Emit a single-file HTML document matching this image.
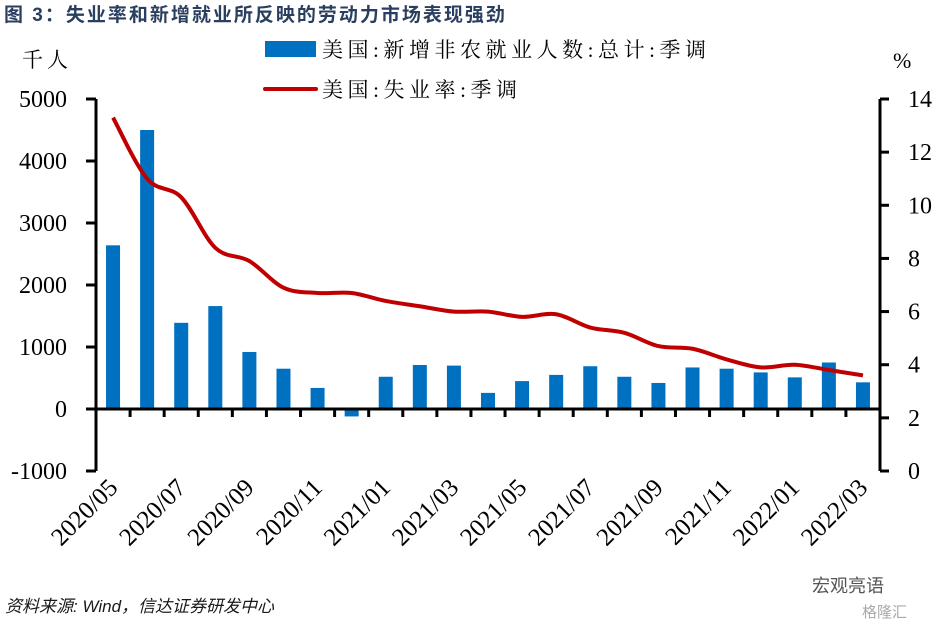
<!DOCTYPE html>
<html><head><meta charset="utf-8"><style>
body{margin:0;background:#fff;}
svg{display:block;}
</style></head><body>
<svg id="chart" width="937" height="629" xmlns="http://www.w3.org/2000/svg" font-family="'Liberation Serif','Noto Serif CJK SC',serif">
<text x="4" y="21" font-size="19" font-weight="bold" fill="#2a3f5f" letter-spacing="2" font-family="'Liberation Sans','Noto Sans CJK SC',sans-serif">图  3：失业率和新增就业所反映的劳动力市场表现强劲</text>
<text x="22" y="67" font-size="21" letter-spacing="4" font-family="'Liberation Serif','Noto Serif CJK SC',serif">千人</text>
<text x="893" y="68" font-size="22">%</text>
<g>
<rect x="265" y="41" width="51" height="16" fill="#0070c0"/>
<text x="322" y="57" font-size="21" textLength="384" lengthAdjust="spacing" font-family="'Liberation Serif','Noto Serif CJK SC',serif">美国:新增非农就业人数:总计:季调</text>
<line x1="265" y1="89" x2="316" y2="89" stroke="#c00000" stroke-width="4" stroke-linecap="round"/>
<text x="322" y="97" font-size="21" textLength="195" lengthAdjust="spacing" font-family="'Liberation Serif','Noto Serif CJK SC',serif">美国:失业率:季调</text>
</g>
<g id="plot"></g>
<text x="5" y="612" font-size="17" font-style="italic" fill="#1a1a1a" font-family="'Liberation Sans','Noto Sans CJK SC',sans-serif">资料来源: Wind，信达证券研发中心</text>
<text x="812" y="592" font-size="18" fill="#555" font-family="'Liberation Sans','Noto Sans CJK SC',sans-serif">宏观亮语</text>
<text x="862" y="617" font-size="15" fill="#aaa" font-family="'Liberation Sans','Noto Sans CJK SC',sans-serif">格隆汇</text>
</svg>
<script>
const categories=["2020/05","2020/06","2020/07","2020/08","2020/09","2020/10","2020/11","2020/12","2021/01","2021/02","2021/03","2021/04","2021/05","2021/06","2021/07","2021/08","2021/09","2021/10","2021/11","2021/12","2022/01","2022/02","2022/03"];
const payrolls=[2640,4500,1390,1660,920,650,340,-120,520,710,700,260,450,550,690,520,420,670,650,590,510,750,430];
const unemployment=[13.3,11.0,10.3,8.4,7.9,6.9,6.7,6.7,6.4,6.2,6.0,6.0,5.8,5.9,5.4,5.2,4.7,4.6,4.2,3.9,4.0,3.8,3.6];
const leftTicks=[-1000,0,1000,2000,3000,4000,5000];
const rightTicks=[0,2,4,6,8,10,12,14];

const NS="http://www.w3.org/2000/svg";
const g=document.getElementById('plot');
const X0=96,X1=880,YT=99,YB=471;
const band=(X1-X0)/categories.length;
const xc=i=>X0+band*(i+0.5);
const yL=v=>YB-(v+1000)/6000*(YB-YT);
const yR=v=>YB-v/14*(YB-YT);
function mk(t,a){const e=document.createElementNS(NS,t);for(const k in a)e.setAttribute(k,a[k]);g.appendChild(e);return e;}

payrolls.forEach((v,i)=>{
 const y0=yL(0),y1=yL(v);
 const r=mk('rect',{x:xc(i)-7,y:Math.min(y0,y1),width:14,height:Math.abs(y1-y0),fill:'#0070c0'});
 
 
});
let a=mk('line',{x1:X0,y1:YT,x2:X0,y2:YB,stroke:'#000','stroke-width':3});

a=mk('line',{x1:X1,y1:YT,x2:X1,y2:YB,stroke:'#000','stroke-width':3});

a=mk('line',{x1:X0-10,y1:yL(0),x2:X1,y2:yL(0),stroke:'#000','stroke-width':3});

for(let i=1;i<categories.length;i++){
 const t=mk('line',{x1:X0+band*i,y1:yL(0),x2:X0+band*i,y2:yL(0)+8,stroke:'#000','stroke-width':3});
 
}
leftTicks.forEach(v=>{
 const t=mk('line',{x1:X0-10,y1:yL(v),x2:X0,y2:yL(v),stroke:'#000','stroke-width':3});
 
 const l=mk('text',{x:X0-29,y:yL(v)+8,'font-size':24,'text-anchor':'end'});l.textContent=v;
 
});
rightTicks.forEach(v=>{
 const t=mk('line',{x1:X1,y1:yR(v),x2:X1+9,y2:yR(v),stroke:'#000','stroke-width':3});
 
 const l=mk('text',{x:X1+28,y:yR(v)+8,'font-size':24,'text-anchor':'start'});l.textContent=v;
 
});
categories.forEach((c,i)=>{
 if(i%2)return;
 const x=xc(i)+6,y=489;
 const l=mk('text',{x:x,y:y,'font-size':25,'text-anchor':'end',transform:`rotate(-45 ${x} ${y})`});
 l.textContent=c;
 
});
const pts=unemployment.map((v,i)=>[xc(i),yR(v)]);
let d=`M${pts[0][0]},${pts[0][1]}`;
for(let i=0;i<pts.length-1;i++){
 const p0=pts[Math.max(0,i-1)],p1=pts[i],p2=pts[i+1],p3=pts[Math.min(pts.length-1,i+2)];
 const c1=[p1[0]+(p2[0]-p0[0])/6,p1[1]+(p2[1]-p0[1])/6];
 const c2=[p2[0]-(p3[0]-p1[0])/6,p2[1]-(p3[1]-p1[1])/6];
 d+=` C${c1[0]},${c1[1]} ${c2[0]},${c2[1]} ${p2[0]},${p2[1]}`;
}
const ln=mk('path',{d:d,fill:'none',stroke:'#c00000','stroke-width':4,'stroke-linejoin':'round'});


</script>
</body></html>
